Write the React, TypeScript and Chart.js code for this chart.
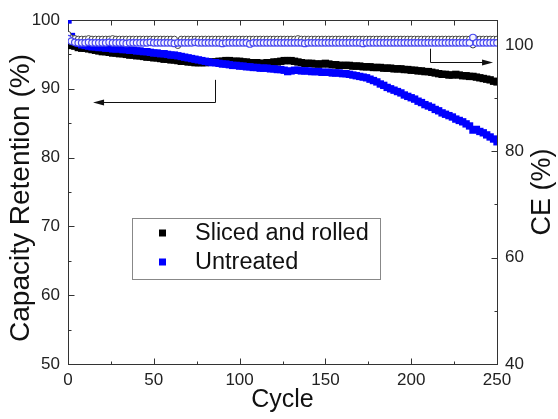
import React, { useEffect, useRef } from "react";
import Chart from "chart.js/auto";

const FONT = "'Liberation Sans', Arial, sans-serif";

// cycle index (every 2nd cycle)
const cycles: number[] = Array.from({ length: 126 }, (_, i) => i * 2);

const slicedRetention = [
  96.6, 96.3, 96.2, 96.0, 95.9, 95.9, 95.8, 95.7, 95.6, 95.5,
  95.4, 95.4, 95.3, 95.2, 95.2, 95.1, 95.1, 95.0, 94.9, 94.9,
  94.8, 94.8, 94.7, 94.6, 94.6, 94.5, 94.5, 94.4, 94.3, 94.3,
  94.2, 94.2, 94.1, 94.0, 94.0, 93.9, 93.9, 93.8, 93.8, 93.8,
  93.8, 93.9, 93.9, 93.9, 94.0, 94.0, 94.1, 94.1, 94.0, 94.0,
  94.0, 93.9, 93.9, 93.8, 93.8, 93.8, 93.7, 93.7, 93.8, 93.8,
  93.9, 93.9, 94.0, 94.1, 94.1, 94.1, 94.0, 93.9, 93.8, 93.7,
  93.7, 93.7, 93.6, 93.6, 93.6, 93.7, 93.6, 93.5, 93.5, 93.4,
  93.4, 93.4, 93.4, 93.3, 93.3, 93.3, 93.2, 93.2, 93.2, 93.1,
  93.1, 93.1, 93.0, 93.0, 93.0, 92.9, 92.9, 92.9, 92.8, 92.8,
  92.7, 92.7, 92.6, 92.6, 92.5, 92.5, 92.4, 92.3, 92.2, 92.1,
  92.1, 92.0, 92.0, 92.1, 92.0, 91.9, 91.9, 91.8, 91.8, 91.7,
  91.6, 91.5, 91.4, 91.3, 91.1, 91.0,
];

const untreatedRetention = [
  100.0, 97.6, 96.9, 96.6, 96.4, 96.3, 96.2, 96.1, 96.1, 96.0,
  96.0, 95.9, 95.9, 95.8, 95.8, 95.8, 95.7, 95.7, 95.6, 95.6,
  95.5, 95.5, 95.4, 95.4, 95.3, 95.2, 95.2, 95.1, 95.1, 95.0,
  94.9, 94.9, 94.8, 94.7, 94.6, 94.5, 94.4, 94.3, 94.2, 94.1,
  94.0, 93.9, 93.8, 93.8, 93.7, 93.6, 93.6, 93.5, 93.4, 93.4,
  93.3, 93.3, 93.2, 93.2, 93.1, 93.1, 93.0, 93.0, 93.0, 92.9,
  92.9, 92.8, 92.8, 92.7, 92.5, 92.6, 92.7, 92.7, 92.6, 92.6,
  92.6, 92.5, 92.5, 92.5, 92.4, 92.4, 92.4, 92.3, 92.3, 92.3,
  92.2, 92.2, 92.1, 92.0, 91.9, 91.8, 91.7, 91.6, 91.4, 91.2,
  91.0, 90.7, 90.5, 90.2, 90.0, 89.8, 89.6, 89.4, 89.1, 88.9,
  88.7, 88.5, 88.2, 88.0, 87.7, 87.5, 87.3, 87.0, 86.8, 86.5,
  86.3, 86.1, 85.9, 85.6, 85.4, 85.2, 84.9, 84.6, 84.0, 84.1,
  83.8, 83.6, 83.3, 83.0, 82.7, 82.3,
];

const slicedCE = [
  102.0, 101.3, 101.2, 101.1, 101.1, 101.1, 101.2, 101.1, 101.1, 101.1,
  101.1, 101.1, 101.1, 101.2, 101.1, 101.1, 101.1, 101.1, 101.1, 101.1,
  101.1, 101.1, 101.1, 101.1, 101.1, 101.1, 101.1, 101.1, 101.1, 101.1,
  101.1, 101.1, 99.9, 101.1, 101.1, 101.1, 101.1, 101.1, 101.1, 101.1,
  101.1, 101.1, 101.1, 101.1, 101.1, 101.1, 101.1, 101.1, 101.1, 101.1,
  101.1, 101.1, 101.1, 101.1, 101.1, 101.1, 101.1, 101.1, 101.1, 101.1,
  101.1, 101.1, 101.1, 101.1, 101.1, 101.1, 101.1, 101.2, 101.1, 101.1,
  101.1, 101.1, 101.1, 101.1, 101.1, 101.1, 101.1, 101.1, 101.1, 101.1,
  101.1, 101.1, 101.1, 101.1, 101.1, 101.1, 101.1, 101.1, 101.1, 101.1,
  101.1, 101.1, 101.1, 101.1, 101.1, 101.1, 101.1, 101.1, 101.1, 101.1,
  101.1, 101.1, 101.1, 101.1, 101.1, 101.1, 101.1, 101.1, 101.1, 101.1,
  101.1, 101.1, 101.1, 101.1, 101.1, 101.1, 101.1, 101.1, 100.0, 101.1,
  101.1, 101.1, 101.1, 101.1, 101.1, 101.1,
];

const untreatedCE = [
  101.2, 100.7, 100.5, 100.4, 100.4, 100.4, 100.5, 100.4, 100.4, 100.4,
  100.4, 100.4, 100.5, 100.4, 100.4, 100.4, 100.4, 100.3, 100.4, 100.4,
  100.4, 100.4, 100.4, 100.4, 100.5, 100.4, 100.4, 100.4, 100.4, 100.4,
  100.4, 100.3, 100.4, 100.4, 100.4, 100.4, 100.4, 100.5, 100.4, 100.4,
  100.4, 100.4, 100.4, 100.4, 100.4, 100.3, 100.4, 100.4, 100.4, 100.4,
  100.4, 100.4, 100.4, 100.2, 100.4, 100.4, 100.4, 100.4, 100.4, 100.4,
  100.4, 100.4, 100.4, 100.4, 100.4, 100.4, 100.4, 100.4, 100.4, 100.3,
  100.4, 100.4, 100.4, 100.4, 100.4, 100.4, 100.4, 100.4, 100.4, 100.4,
  100.4, 100.4, 100.4, 100.4, 100.4, 100.4, 100.3, 100.4, 100.4, 100.4,
  100.4, 100.4, 100.4, 100.4, 100.4, 100.4, 100.4, 100.4, 100.4, 100.4,
  100.4, 100.4, 100.4, 100.4, 100.4, 100.4, 100.4, 100.4, 100.4, 100.4,
  100.4, 100.4, 100.4, 100.4, 100.4, 100.4, 100.4, 100.4, 101.4, 100.4,
  100.4, 100.4, 100.4, 100.4, 100.4, 100.4,
];

const seriesLabels = ["Sliced and rolled", "Untreated"];
const xTitle = "Cycle";
const leftTitle = "Capacity Retention (%)";
const rightTitle = "CE (%)";

// annotation arrows (data coordinates)
const retentionArrow = { x: 85.7, yFrom: 91.3, yCorner: 88.1, xTo: 14.6 };
const ceArrow = { x: 211, yFrom: 99.3, yCorner: 96.8, xTo: 247.7 };

const toPts = (ys: number[]) => ys.map((y, i) => ({ x: cycles[i], y }));

function drawArrowHead(ctx: CanvasRenderingContext2D, x: number, y: number, dir: number) {
  const len = 11, half = 3;
  ctx.beginPath();
  ctx.moveTo(x, y);
  ctx.lineTo(x - dir * len, y - half);
  ctx.lineTo(x - dir * len, y + half);
  ctx.closePath();
  ctx.fill();
}

const decor = {
  id: "decor",
  beforeDatasetsDraw(chart: any) {
    const { ctx, chartArea: a, scales } = chart;
    ctx.save();
    ctx.strokeStyle = "#333";
    ctx.lineWidth = 1;
    const seg = (x1: number, y1: number, x2: number, y2: number) => {
      ctx.beginPath();
      ctx.moveTo(x1, y1);
      ctx.lineTo(x2, y2);
      ctx.stroke();
    };
    const top = Math.round(a.top) + 0.5;
    seg(a.left, top, a.right, top);

    const xs = scales.x;
    const xv = xs.ticks.map((t: any) => t.value);
    const xm: number[] = [];
    for (let i = 0; i < xv.length - 1; i++) xm.push((xv[i] + xv[i + 1]) / 2);
    const bot = Math.round(a.bottom) + 0.5;
    xv.forEach((v: number) => {
      const p = Math.round(xs.getPixelForValue(v)) + 0.5;
      seg(p, bot, p, bot - 6);
      seg(p, top, p, top + 5);
    });
    xm.forEach((v: number) => {
      const p = Math.round(xs.getPixelForValue(v)) + 0.5;
      seg(p, bot, p, bot - 3);
      seg(p, top, p, top + 5);
    });

    const ys = scales.y;
    const yv = ys.ticks.map((t: any) => t.value);
    const left = Math.round(a.left) + 0.5;
    yv.forEach((v: number, i: number) => {
      const p = Math.round(ys.getPixelForValue(v)) + 0.5;
      seg(left, p, left + 6, p);
      if (i < yv.length - 1) {
        const q = Math.round(ys.getPixelForValue((v + yv[i + 1]) / 2)) + 0.5;
        seg(left, q, left + 3, q);
      }
    });

    const y1 = scales.y1;
    const y1v = y1.ticks.map((t: any) => t.value);
    const right = Math.round(a.right) + 0.5;
    y1v.forEach((v: number, i: number) => {
      const p = Math.round(y1.getPixelForValue(v)) + 0.5;
      seg(right, p, right - 6, p);
      if (i < y1v.length - 1) {
        const q = Math.round(y1.getPixelForValue((v + y1v[i + 1]) / 2)) + 0.5;
        seg(right, q, right - 3, q);
      }
    });
    ctx.restore();
  },
  afterDraw(chart: any) {
    const { ctx, chartArea: a, scales } = chart;
    const xs = scales.x, ys = scales.y, y1 = scales.y1;
    ctx.save();
    ctx.strokeStyle = "#111";
    ctx.fillStyle = "#111";
    ctx.lineWidth = 1;

    // left arrow (to retention axis)
    {
      const x = Math.round(xs.getPixelForValue(retentionArrow.x)) + 0.5;
      const yA = ys.getPixelForValue(retentionArrow.yFrom);
      const yC = Math.round(ys.getPixelForValue(retentionArrow.yCorner)) + 0.5;
      const xT = xs.getPixelForValue(retentionArrow.xTo);
      ctx.beginPath();
      ctx.moveTo(x, yA);
      ctx.lineTo(x, yC);
      ctx.lineTo(xT + 8, yC);
      ctx.stroke();
      drawArrowHead(ctx, xT, yC, -1);
    }
    // right arrow (to CE axis)
    {
      const x = Math.round(xs.getPixelForValue(ceArrow.x)) + 0.5;
      const yA = y1.getPixelForValue(ceArrow.yFrom);
      const yC = Math.round(y1.getPixelForValue(ceArrow.yCorner)) + 0.5;
      const xT = xs.getPixelForValue(ceArrow.xTo);
      ctx.beginPath();
      ctx.moveTo(x, yA);
      ctx.lineTo(x, yC);
      ctx.lineTo(xT - 8, yC);
      ctx.stroke();
      drawArrowHead(ctx, xT, yC, 1);
    }

    // legend
    const lx = a.left + 64, ly = a.top + 198, lw = 248, lh = 61;
    ctx.fillStyle = "#fff";
    ctx.fillRect(lx, ly, lw, lh);
    ctx.strokeStyle = "#888";
    ctx.strokeRect(lx + 0.5, ly + 0.5, lw, lh);
    const ds = chart.data.datasets;
    ctx.font = `23.5px ${FONT}`;
    ctx.textBaseline = "middle";
    ctx.textAlign = "left";
    seriesLabels.forEach((lab, i) => {
      const cy = ly + 15 + i * 29;
      ctx.fillStyle = ds[i].pointBackgroundColor;
      ctx.fillRect(lx + 27, cy - 3.5, 7, 7);
      ctx.fillStyle = "#111";
      ctx.fillText(lab, lx + 63, cy + 1);
    });

    // y titles
    ctx.fillStyle = "#111";
    ctx.textAlign = "center";
    ctx.textBaseline = "middle";
    ctx.save();
    ctx.translate(21.5, (a.top + a.bottom) / 2 + 6);
    ctx.rotate(-Math.PI / 2);
    ctx.font = `28px ${FONT}`;
    ctx.fillText(leftTitle, 0, 0);
    ctx.restore();
    ctx.save();
    ctx.translate(a.right + 46, (a.top + a.bottom) / 2);
    ctx.rotate(-Math.PI / 2);
    ctx.font = `27px ${FONT}`;
    ctx.fillText(rightTitle, 0, 0);
    ctx.restore();

    ctx.restore();
  },
};

export default function App() {
  const ref = useRef<HTMLCanvasElement | null>(null);
  useEffect(() => {
    if (!ref.current) return;
    const tickFont = { family: FONT, size: 17 };
    const gridOpts = { display: true, drawOnChartArea: false, drawTicks: false };
    const borderOpts = { display: true, color: "#333", width: 1 };
    const chart = new Chart(ref.current, {
      type: "scatter",
      data: {
        datasets: [
          {
            label: seriesLabels[0],
            data: toPts(slicedRetention),
            yAxisID: "y",
            showLine: false,
            pointStyle: "rect",
            pointRadius: 5.2,
            pointBackgroundColor: "#000000",
            pointBorderWidth: 0,
            order: 3,
          },
          {
            label: seriesLabels[1],
            data: toPts(untreatedRetention),
            yAxisID: "y",
            showLine: false,
            pointStyle: "rect",
            pointRadius: 5.2,
            pointBackgroundColor: "#0000ff",
            pointBorderWidth: 0,
            order: 2,
          },
          {
            label: "Sliced and rolled CE",
            data: toPts(slicedCE),
            yAxisID: "y1",
            showLine: false,
            pointStyle: "circle",
            pointRadius: 3,
            pointBackgroundColor: "#ffffff",
            pointBorderColor: "#444444",
            pointBorderWidth: 1,
            order: 1,
          },
          {
            label: "Untreated CE",
            data: toPts(untreatedCE),
            yAxisID: "y1",
            showLine: false,
            pointStyle: "circle",
            pointRadius: 3.3,
            pointBackgroundColor: "#f4f4ff",
            pointBorderColor: "#4848f0",
            pointBorderWidth: 1.2,
            order: 0,
          },
        ],
      } as any,
      options: {
        animation: false,
        responsive: false,
        layout: { padding: { top: 20, left: 0, right: 0, bottom: 0 } },
        plugins: { legend: { display: false }, tooltip: { enabled: false } },
        scales: {
          x: {
            type: "linear",
            min: 0,
            max: 250,
            ticks: { stepSize: 50, padding: 6, color: "#222", font: tickFont },
            grid: gridOpts,
            border: borderOpts,
            title: {
              display: true,
              text: xTitle,
              color: "#111",
              font: { family: FONT, size: 25 },
              padding: { top: 0, bottom: 4 },
            },
            afterFit: (s: any) => {
              s.height = 55;
            },
          },
          y: {
            type: "linear",
            position: "left",
            min: 50,
            max: 100,
            ticks: { stepSize: 10, padding: 8, color: "#222", font: tickFont },
            grid: gridOpts,
            border: borderOpts,
            afterFit: (s: any) => {
              s.width = 68;
            },
          },
          y1: {
            type: "linear",
            position: "right",
            min: 40,
            max: 104.7,
            ticks: { stepSize: 20, includeBounds: false, padding: 8, color: "#222", font: tickFont },
            grid: gridOpts,
            border: borderOpts,
            afterFit: (s: any) => {
              s.width = 61;
            },
          },
        },
      } as any,
      plugins: [decor],
    });
    return () => chart.destroy();
  }, []);
  return (
    <div style={{ position: "fixed", left: 0, top: 0, width: 558, height: 419, background: "#fff" }}>
      <canvas ref={ref} width={558} height={419} style={{ display: "block" }} />
    </div>
  );
}
